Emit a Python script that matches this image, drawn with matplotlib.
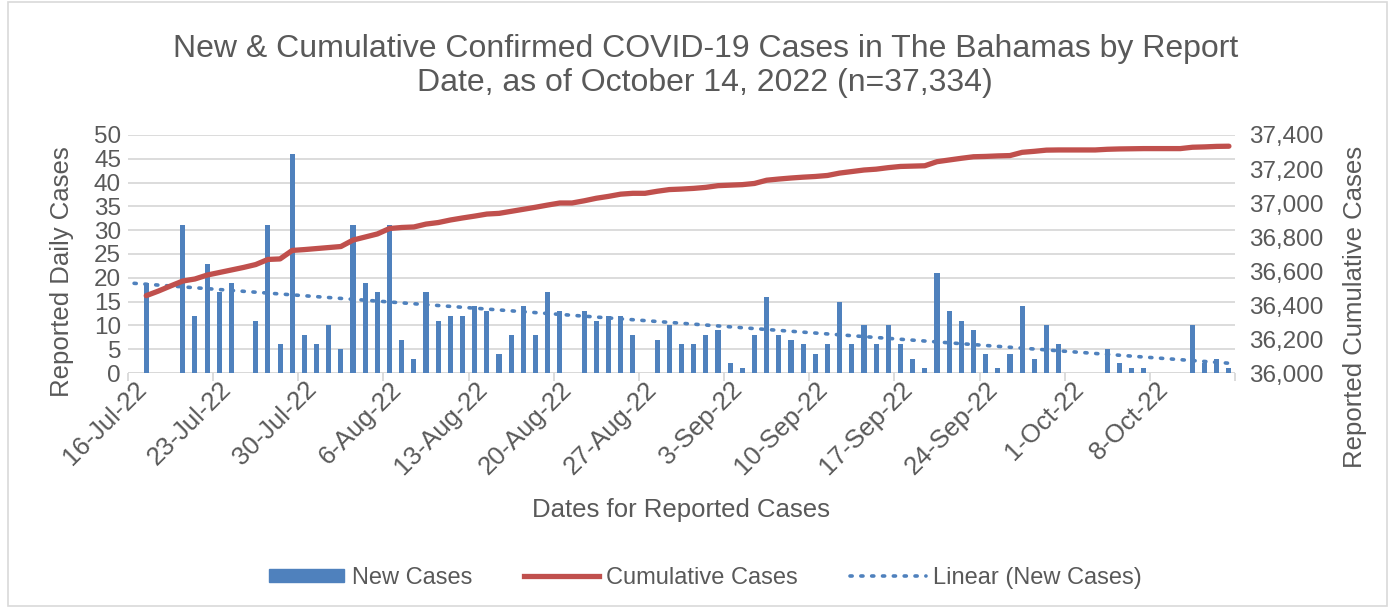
import matplotlib
matplotlib.use("Agg")
import matplotlib.pyplot as plt
from matplotlib.patches import Rectangle
from matplotlib.lines import Line2D
from matplotlib.ticker import FuncFormatter, MultipleLocator
import numpy as np
import pandas as pd

plt.rcParams["font.family"] = ["Liberation Sans", "DejaVu Sans"]

# --- data (one value per report date) ---
start_date = "2022-07-16"
end_date = "2022-10-14"

new_cases = [
    0, 19, 0, 0, 31, 12, 23, 17, 19, 0,
    11, 31, 6, 46, 8, 6, 10, 5, 31, 19,
    17, 31, 7, 3, 17, 11, 12, 12, 14, 13,
    4, 8, 14, 8, 17, 13, 0, 13, 11, 12,
    12, 8, 0, 7, 10, 6, 6, 8, 9, 2,
    1, 8, 16, 8, 7, 6, 4, 6, 15, 6,
    10, 6, 10, 6, 3, 1, 21, 13, 11, 9,
    4, 1, 4, 14, 3, 10, 6, 0, 0, 0,
    5, 2, 1, 1, 0, 0, 0, 10, 2, 3,
    1,
]

cumulative_cases = [
    None, 36455, 36482, 36512, 36541, 36553, 36576, 36591, 36606, 36621,
    36638, 36668, 36671, 36721, 36726, 36732, 36738, 36744, 36782, 36800,
    36818, 36850, 36856, 36859, 36876, 36885, 36900, 36912, 36923, 36935,
    36939, 36951, 36963, 36975, 36988, 37000, 37000, 37013, 37028, 37039,
    37052, 37057, 37057, 37069, 37079, 37082, 37086, 37092, 37102, 37105,
    37108, 37115, 37134, 37141, 37147, 37152, 37156, 37162, 37176, 37185,
    37194, 37199, 37208, 37215, 37217, 37219, 37243, 37253, 37263, 37272,
    37274, 37277, 37279, 37298, 37304, 37311, 37312, 37312, 37312, 37312,
    37316, 37318, 37319, 37320, 37320, 37320, 37320, 37328, 37330, 37333,
    37334,
]

dates = pd.date_range(start_date, end_date, freq="D")
days = np.arange(len(dates))
new_arr = np.array(new_cases, dtype=float)
cum_arr = np.array([np.nan if v is None else v for v in cumulative_cases], dtype=float)

# linear trend of new cases (days without a report are left out, as Excel does with blanks)
mask = new_arr > 0
slope, intercept = np.polyfit(days[mask], new_arr[mask], 1)
trend = slope * days + intercept

BLUE = "#4F81BD"
RED = "#C0504D"
GRID = "#D9D9D9"
TEXT = "#595959"

fig = plt.figure(figsize=(13.91, 6.10), dpi=100)
ax = fig.add_axes([128 / 1391, 1 - 373 / 610, (1235 - 128) / 1391, (373 - 135) / 610])
ax2 = ax.twinx()

ax.bar(days, new_arr, width=0.42, color=BLUE, zorder=2)
ax.plot(days, trend, color=BLUE, lw=2.6, linestyle=(0, (0.6, 2.4)),
        dash_capstyle="round", zorder=3)
ax2.plot(days, cum_arr, color=RED, lw=3.8, solid_capstyle="round", zorder=4)

# left axis
ax.set_xlim(-0.5, len(dates) - 0.5)
ax.set_ylim(0, 50)
ax.yaxis.set_major_locator(MultipleLocator(5))
ax.grid(axis="y", color=GRID, lw=1.3, zorder=0)
ax.set_axisbelow(True)

# right axis
ax2.set_ylim(36000, 37400)
ax2.yaxis.set_major_locator(MultipleLocator(200))
ax2.yaxis.set_major_formatter(FuncFormatter(lambda v, p: f"{int(v):,}"))

# x axis: labels every 7 days at the date, tick marks between dates
label_idx = days[::7][:13]
ax.set_xticks(label_idx)
ax.set_xticklabels([f"{d.day}-{d:%b-%y}" for d in dates[label_idx]],
                   rotation=45, ha="right", rotation_mode="anchor")
ax.set_xticks(np.arange(-0.5, len(dates), 7), minor=True)
ax.tick_params(axis="x", which="major", length=0, pad=3, labelsize=18.5, colors=TEXT)
ax.tick_params(axis="x", which="minor", length=6, color=GRID, width=1.3)
ax.tick_params(axis="y", length=0, labelsize=17.5, colors=TEXT, pad=5)
ax2.tick_params(axis="y", length=0, labelsize=17.5, colors=TEXT, pad=10)

for a in (ax, ax2):
    for side in ("top", "left", "right", "bottom"):
        a.spines[side].set_visible(False)
ax.axhline(0, color=GRID, lw=1.3, zorder=1)

# titles and axis titles
fig.text(0.507, 1 - 66 / 610,
         "New & Cumulative Confirmed COVID-19 Cases in The Bahamas by Report\n"
         "Date, as of October 14, 2022 (n=37,334)",
         ha="center", va="center", fontsize=23, color=TEXT, linespacing=1.2)
fig.text(62 / 1391, 1 - 272 / 610, "Reported Daily Cases", rotation=90,
         ha="center", va="center", fontsize=18.5, color=TEXT)
fig.text(1355 / 1391, 1 - 307 / 610, "Reported Cumulative Cases", rotation=90,
         ha="center", va="center", fontsize=18.5, color=TEXT)
fig.text(681 / 1391, 1 - 510 / 610, "Dates for Reported Cases",
         ha="center", va="center", fontsize=18.5, color=TEXT)

# legend
handles = [
    Rectangle((0, 0), 1, 1, color=BLUE),
    Line2D([], [], color=RED, lw=3.8),
    Line2D([], [], color=BLUE, lw=2.6, linestyle=(0, (0.6, 2.4)), dash_capstyle="round"),
]
fig.legend(handles, ["New Cases", "Cumulative Cases", "Linear (New Cases)"],
           loc="center", bbox_to_anchor=(0.507, 1 - 578 / 610), ncol=3,
           frameon=False, fontsize=17, handlelength=3.2, handleheight=0.5,
           columnspacing=2.2, handletextpad=0.3, labelcolor=TEXT)

# chart border
fig.patches.append(Rectangle((8 / 1391, 4 / 610), 1 - 12 / 1391, 1 - 6 / 610,
                             transform=fig.transFigure, fill=False,
                             edgecolor=GRID, lw=1.2))

fig.savefig("out.png", dpi=100)
